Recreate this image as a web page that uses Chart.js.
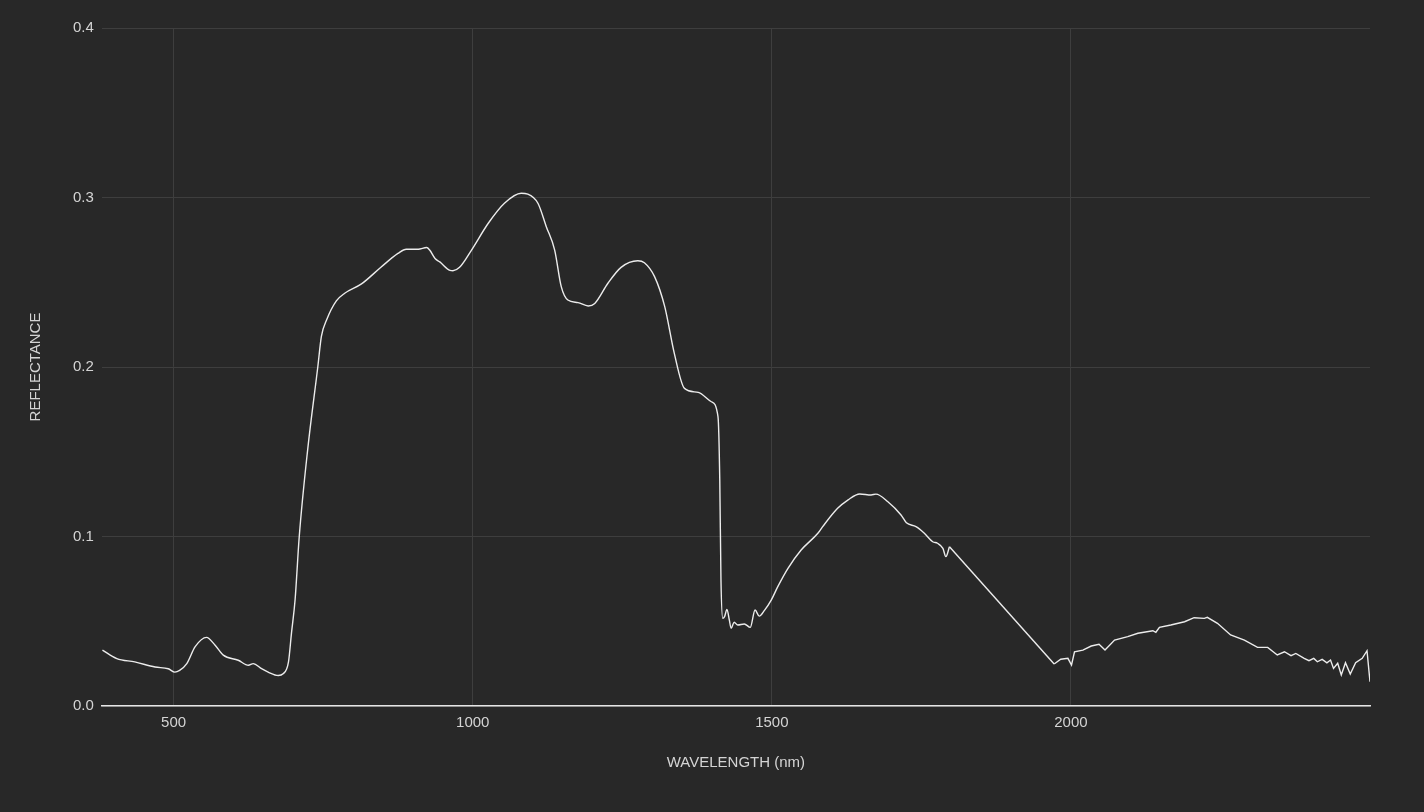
<!DOCTYPE html>
<html lang="en">
<head>
    <meta charset="UTF-8">
    <title>Reflectance spectrum</title>
    <script src="https://cdn.jsdelivr.net/npm/chart.js@4.4.1/dist/chart.umd.min.js"></script>
    <style>
        html, body {
            margin: 0;
            padding: 0;
            background: #282828;
        }
        .wrap {
            width: 1424px;
            height: 812px;
        }
    </style>
</head>
<body>
    <div class="wrap">
        <canvas id="spectrum"></canvas>
    </div>

    <script>
        // values
        const wavelengths = [
            381, 405, 435, 469, 491, 502, 510, 522, 536, 555, 569, 583, 608, 625, 633, 647, 658, 675, 683, 692,
            697, 703, 710, 724, 741, 747, 756, 772, 786, 814, 847, 875, 889, 909, 923, 928, 937, 945, 962, 967,
            978, 998, 1026, 1053, 1081, 1092, 1109, 1123, 1137, 1148, 1159, 1176, 1193, 1204, 1226, 1248, 1276, 1287, 1304, 1321,
            1337, 1354, 1377, 1399, 1410, 1413, 1415, 1418, 1421, 1425, 1429, 1432, 1437, 1443, 1454, 1464, 1472, 1479, 1488, 1499,
            1510, 1527, 1549, 1577, 1585, 1610, 1627, 1647, 1666, 1674, 1694, 1716, 1725, 1741, 1755, 1769, 1777, 1786, 1791, 1797,
            1972, 1983, 1995, 2001, 2006, 2020, 2034, 2047, 2057, 2073, 2095, 2112, 2137, 2142, 2148, 2167, 2190, 2206, 2223, 2228,
            2245, 2267, 2290, 2312, 2329, 2345, 2357, 2368, 2376, 2390, 2398, 2406, 2412, 2420, 2428, 2434, 2439, 2446, 2452, 2459,
            2467, 2476, 2487, 2495, 2500
        ];
        const reflectance = [
            0.033, 0.028, 0.026, 0.023, 0.022, 0.020, 0.021, 0.025, 0.035, 0.0405, 0.036, 0.030, 0.027, 0.024, 0.025, 0.022, 0.020, 0.018, 0.019, 0.026,
            0.043, 0.0625, 0.100, 0.151, 0.200, 0.218, 0.228, 0.239, 0.2435, 0.249, 0.259, 0.267, 0.2695, 0.2695, 0.2705, 0.269, 0.264, 0.262, 0.257, 0.2568,
            0.2588, 0.269, 0.2848, 0.2966, 0.3025, 0.302, 0.2966, 0.2828, 0.269, 0.2474, 0.2395, 0.238, 0.236, 0.2375, 0.2494, 0.2588, 0.2627, 0.2615, 0.2533, 0.2356,
            0.208, 0.1874, 0.185, 0.1795, 0.1707, 0.1333, 0.0743, 0.0517, 0.0527, 0.057, 0.0507, 0.0458, 0.0494, 0.0478, 0.0484, 0.0464, 0.0566, 0.053, 0.0566, 0.0625,
            0.0704, 0.0812, 0.092, 0.1019, 0.1058, 0.1166, 0.1215, 0.1251, 0.1245, 0.125, 0.1205, 0.1127, 0.1081, 0.1058, 0.1019, 0.0969, 0.096, 0.093, 0.0881, 0.094,
            0.0248, 0.0276, 0.0281, 0.0242, 0.032, 0.033, 0.0354, 0.0364, 0.033, 0.0389, 0.0409, 0.0429, 0.0444, 0.0435, 0.0464, 0.0478, 0.0497, 0.0521, 0.0517, 0.0523,
            0.0488, 0.0419, 0.0389, 0.0346, 0.0346, 0.0301, 0.032, 0.0297, 0.031, 0.0281, 0.0267, 0.0281, 0.0261, 0.0275, 0.0255, 0.0271, 0.0222, 0.0252, 0.0183, 0.0255,
            0.0189, 0.0255, 0.0281, 0.0326, 0.0143
        ];
        const xTicks = [500, 1000, 1500, 2000];
        const yTicks = [0, 0.1, 0.2, 0.3, 0.4];
        // the water-absorption gap: the source just joins these two samples with a straight line
        const gapStart = 1797;
        const gapEnd = 1972;

        const points = wavelengths.map((w, i) => ({ x: w, y: reflectance[i] }));
        const smoothPart = points.filter(p => p.x <= gapStart);
        const gapPart = points.filter(p => p.x === gapStart || p.x === gapEnd);
        const tailPart = points.filter(p => p.x >= gapEnd);

        const textColor = '#d4d4d4';
        const gridColor = '#3e3e3e';
        const lineColor = '#ececec';
        Chart.defaults.font.family = '"Liberation Sans", Arial, sans-serif';

        const lineStyle = {
            borderColor: lineColor,
            borderWidth: 1.4,
            pointRadius: 0,
            fill: false
        };

        new Chart(document.getElementById('spectrum'), {
            type: 'line',
            data: {
                datasets: [
                    { ...lineStyle, label: 'Reflectance', data: smoothPart, cubicInterpolationMode: 'monotone' },
                    { ...lineStyle, label: 'gap', data: gapPart, tension: 0 },
                    { ...lineStyle, label: 'tail', data: tailPart, tension: 0 }
                ]
            },
            options: {
                responsive: true,
                maintainAspectRatio: false,
                animation: false,
                layout: {
                    padding: { top: 28, right: 54, bottom: 40, left: 27 }
                },
                plugins: {
                    legend: { display: false },
                    tooltip: { enabled: false }
                },
                scales: {
                    x: {
                        type: 'linear',
                        min: 380,
                        max: 2500,
                        afterBuildTicks: axis => {
                            axis.ticks = xTicks.map(v => ({ value: v }));
                        },
                        grid: {
                            color: gridColor,
                            drawTicks: false
                        },
                        border: {
                            display: true,
                            color: '#e6e6e6',
                            width: 1.5
                        },
                        ticks: {
                            color: textColor,
                            font: { size: 15 },
                            padding: 8,
                            maxRotation: 0,
                            callback: v => String(v)
                        },
                        title: {
                            display: true,
                            text: 'WAVELENGTH (nm)',
                            color: textColor,
                            font: { size: 15 },
                            padding: { top: 14, bottom: 0 }
                        }
                    },
                    y: {
                        min: 0,
                        max: 0.4,
                        afterBuildTicks: axis => {
                            axis.ticks = yTicks.map(v => ({ value: v }));
                        },
                        grid: {
                            color: gridColor,
                            drawTicks: false
                        },
                        border: { display: false },
                        ticks: {
                            color: textColor,
                            font: { size: 15 },
                            padding: 8,
                            callback: v => v.toFixed(1)
                        },
                        title: {
                            display: true,
                            text: 'REFLECTANCE',
                            color: textColor,
                            font: { size: 15 },
                            padding: { top: 0, bottom: 20 }
                        }
                    }
                }
            }
        });
    </script>
</body>
</html>
